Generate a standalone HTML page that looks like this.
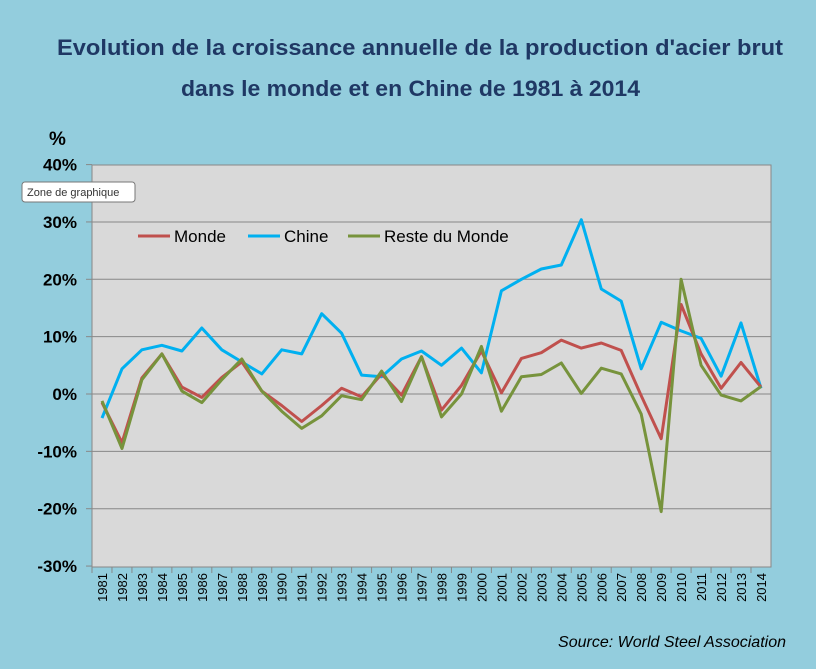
<!DOCTYPE html>
<html><head><meta charset="utf-8"><style>
html,body{margin:0;padding:0}
body{width:816px;height:669px;background:#93CDDD;font-family:"Liberation Sans",sans-serif;overflow:hidden;position:relative}
</style></head><body>
<svg id="s" width="816" height="669" xmlns="http://www.w3.org/2000/svg" style="position:absolute;left:0;top:0">
<text x="57" y="55" textLength="726" lengthAdjust="spacingAndGlyphs" font-size="22" font-weight="bold" fill="#1F3864">Evolution de la croissance annuelle de la production d'acier brut</text>
<text x="181" y="96" textLength="459" lengthAdjust="spacingAndGlyphs" font-size="22" font-weight="bold" fill="#1F3864">dans le monde et en Chine de 1981 à 2014</text>
<text x="49" y="145" font-size="19" font-weight="bold" fill="#000">%</text>
<rect x="92" y="165" width="679" height="402" fill="#D9D9D9" stroke="#888" stroke-width="1"/>
<g id="grid"></g>
<g id="lines"></g>
<rect x="22" y="182" width="113" height="20" rx="3" fill="#fff" stroke="#777"/>
<text x="27" y="196" font-size="11" fill="#333">Zone de graphique</text>
<line x1="138" y1="236" x2="170" y2="236" stroke="#C0504D" stroke-width="3"/>
<text x="174" y="242" font-size="17" fill="#000">Monde</text>
<line x1="248" y1="236" x2="280" y2="236" stroke="#00B0F0" stroke-width="3"/>
<text x="284" y="242" font-size="17" fill="#000">Chine</text>
<line x1="348" y1="236" x2="380" y2="236" stroke="#77933C" stroke-width="3"/>
<text x="384" y="242" font-size="17" fill="#000">Reste du Monde</text>
<text x="786" y="647" text-anchor="end" font-size="16" font-style="italic" fill="#000">Source: World Steel Association</text>
</svg>
<script>
var ns="http://www.w3.org/2000/svg";
function el(t,a,p,txt){var e=document.createElementNS(ns,t);for(var k in a)e.setAttribute(k,a[k]);if(txt!=null)e.textContent=txt;document.getElementById(p).appendChild(e);}
function Y(v){return 394-v*5.735;}
function X(i){return 102+i*19.97;}
for(var v=-30;v<=40;v+=10){var y=Y(v);
 if(v>-30&&v<40)el("line",{x1:92,y1:y,x2:771,y2:y,stroke:"#888","stroke-width":1},"grid");
 el("line",{x1:86,y1:y,x2:92,y2:y,stroke:"#888"},"grid");
 el("text",{x:77,y:y+6,"text-anchor":"end","font-size":17,"font-weight":"bold"},"grid",v+"%");}
for(var i=0;i<34;i++){var x=X(i);
 el("line",{x1:x-10,y1:567,x2:x-10,y2:573,stroke:"#888"},"grid");
 el("text",{x:0,y:0,"font-size":13,"text-anchor":"end",transform:"translate("+(x+5)+",573) rotate(-90)"},"grid",String(1981+i));}
var chine=[-4.2,4.4,7.7,8.5,7.5,11.5,7.7,5.6,3.5,7.7,7,14,10.6,3.3,3,6.1,7.5,5,8,3.7,18,20,21.8,22.5,30.4,18.3,16.2,4.4,12.5,11,9.7,3.1,12.4,1];
var monde=[-1.5,-8.5,2.8,7,1.2,-0.6,2.9,5.6,0.5,-2,-4.8,-2,1,-0.5,3.5,-0.2,6.5,-2.8,1.5,7.5,0.2,6.2,7.2,9.4,8,8.9,7.6,-0.3,-7.8,15.6,7,1,5.5,1.2];
var reste=[-1.2,-9.5,2.5,7,0.5,-1.5,2.5,6.1,0.5,-3,-6,-3.8,-0.3,-1,4,-1.3,6.5,-4,0,8.3,-3,3,3.4,5.4,0.1,4.5,3.5,-3.5,-20.5,20,5,-0.2,-1.2,1.3];
function line(d,c){el("polyline",{points:d.map(function(v,i){return X(i).toFixed(1)+","+Y(v).toFixed(1)}).join(" "),fill:"none",stroke:c,"stroke-width":3,"stroke-linejoin":"round"},"lines");}
line(chine,"#00B0F0");line(monde,"#C0504D");line(reste,"#77933C");
</script>
</body></html>
